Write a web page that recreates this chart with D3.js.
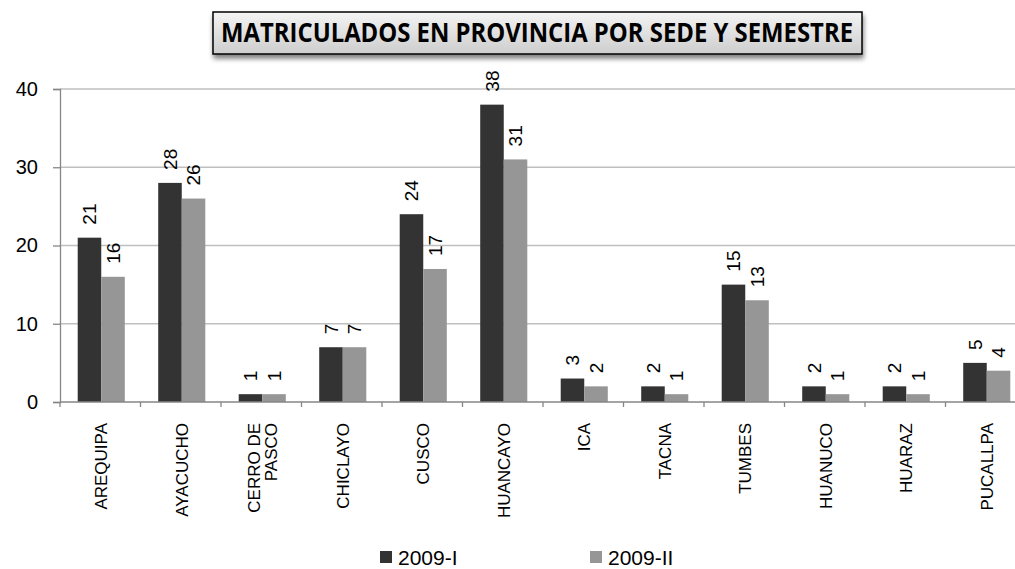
<!DOCTYPE html>
<html>
<head>
<meta charset="utf-8">
<script src="https://cdn.jsdelivr.net/npm/d3@7"></script>
<style>
  html, body { margin: 0; padding: 0; background: #fff; }
  svg { display: block; font-family: Arial, "Liberation Sans", sans-serif; }
</style>
</head>
<body>
<svg id="chart" width="1015" height="569"></svg>
<script>
// Enrolment per campus, two semesters
const sedes = ["AREQUIPA", "AYACUCHO", "CERRO DE PASCO", "CHICLAYO", "CUSCO", "HUANCAYO",
               "ICA", "TACNA", "TUMBES", "HUANUCO", "HUARAZ", "PUCALLPA"];
const sedeLines = [["AREQUIPA"], ["AYACUCHO"], ["CERRO DE", "PASCO"], ["CHICLAYO"], ["CUSCO"], ["HUANCAYO"],
                   ["ICA"], ["TACNA"], ["TUMBES"], ["HUANUCO"], ["HUARAZ"], ["PUCALLPA"]];
const semestres = ["2009-I", "2009-II"];
const valores2009I  = [21, 28, 1, 7, 24, 38, 3, 2, 15, 2, 2, 5];
const valores2009II = [16, 26, 1, 7, 17, 31, 2, 1, 13, 1, 1, 4];
const yTicks = [0, 10, 20, 30, 40];
const titulo = "MATRICULADOS EN PROVINCIA POR SEDE Y SEMESTRE";

const colores = { "2009-I": "#333333", "2009-II": "#969696" };
const series = { "2009-I": valores2009I, "2009-II": valores2009II };

const svg = d3.select("#chart");

// Plot frame
const plotLeft = 60, plotRight = 1026, plotTop = 89, plotBottom = 402;

const x0 = d3.scaleBand().domain(sedes).range([plotLeft, plotRight]).padding(0);
const x1 = d3.scaleBand().domain(semestres).range([0, x0.bandwidth()]).paddingInner(0).paddingOuter(0.71);
const y = d3.scaleLinear().domain([0, 40]).range([plotBottom, plotTop]);

// Gridlines
svg.append("g").selectAll("line").data(yTicks.filter(d => d > 0)).join("line")
  .attr("x1", plotLeft).attr("x2", 1015)
  .attr("y1", d => y(d)).attr("y2", d => y(d))
  .attr("stroke", "#bfbfbf").attr("stroke-width", 1.3);

// Y axis
const yAxis = svg.append("g").attr("transform", `translate(${plotLeft},0)`)
  .call(d3.axisLeft(y).tickValues(yTicks).tickSize(7).tickPadding(15));
yAxis.select(".domain").attr("stroke", "#868686").attr("stroke-width", 1.3);
yAxis.selectAll(".tick line").attr("stroke", "#868686").attr("stroke-width", 1.3);
yAxis.selectAll(".tick text").attr("font-size", 20).attr("fill", "#000")
  .attr("font-family", "Arial, 'Liberation Sans', sans-serif");

// Bars
const groups = svg.append("g").selectAll("g").data(sedes).join("g")
  .attr("transform", d => `translate(${x0(d)},0)`);

groups.selectAll("rect")
  .data((d, i) => semestres.map(s => ({ s, v: series[s][i] })))
  .join("rect")
  .attr("x", d => x1(d.s) + 1)
  .attr("width", x1.bandwidth())
  .attr("y", d => y(d.v))
  .attr("height", d => y(0) - y(d.v))
  .attr("fill", d => colores[d.s]);

// Value labels, rotated
groups.selectAll("text.val")
  .data((d, i) => semestres.map(s => ({ s, v: series[s][i] })))
  .join("text").attr("class", "val")
  .attr("transform", d => `translate(${x1(d.s) + 1 + x1.bandwidth() / 2},${y(d.v) - 13}) rotate(-90)`)
  .attr("dy", "0.36em")
  .attr("text-anchor", "start")
  .attr("font-size", 19)
  .attr("fill", "#000")
  .text(d => d.v);

// X axis
const xAxis = svg.append("g").attr("transform", `translate(0,${plotBottom})`);
xAxis.append("line").attr("x1", plotLeft).attr("x2", 1015).attr("y1", 0).attr("y2", 0)
  .attr("stroke", "#868686").attr("stroke-width", 1.3);
xAxis.selectAll("line.tk").data(sedes).join("line").attr("class", "tk")
  .attr("x1", d => x0(d)).attr("x2", d => x0(d)).attr("y1", 0).attr("y2", 5)
  .attr("stroke", "#868686").attr("stroke-width", 1.3);

// Category labels, rotated
const catLabels = xAxis.selectAll("g.cat").data(sedes).join("g").attr("class", "cat")
  .attr("transform", d => `translate(${x0(d) + x0.bandwidth() / 2 + 1},21) rotate(-90)`);
catLabels.each(function (d, i) {
  const lines = sedeLines[i];
  const n = lines.length;
  const t = d3.select(this).append("text")
    .attr("text-anchor", "end")
    .attr("font-size", 17)
    .attr("fill", "#000");
  lines.forEach((ln, k) => {
    t.append("tspan")
      .attr("x", 0)
      .attr("y", (k - (n - 1) / 2) * 17)
      .attr("dy", "0.36em")
      .text(ln);
  });
});

// Title box
const defs = svg.append("defs");
const grad = defs.append("linearGradient").attr("id", "titleGrad")
  .attr("x1", 0).attr("y1", 0).attr("x2", 0).attr("y2", 1);
grad.append("stop").attr("offset", "0%").attr("stop-color", "#f4f4f4");
grad.append("stop").attr("offset", "100%").attr("stop-color", "#cdcdcd");
const shadow = defs.append("filter").attr("id", "titleShadow")
  .attr("x", "-10%").attr("y", "-30%").attr("width", "120%").attr("height", "180%");
shadow.append("feGaussianBlur").attr("in", "SourceAlpha").attr("stdDeviation", 2.5);
shadow.append("feOffset").attr("dx", 1).attr("dy", 4).attr("result", "off");
shadow.append("feComponentTransfer").append("feFuncA").attr("type", "linear").attr("slope", 0.5);
const merge = shadow.append("feMerge");
merge.append("feMergeNode");
merge.append("feMergeNode").attr("in", "SourceGraphic");

svg.append("rect")
  .attr("x", 213).attr("y", 12).attr("width", 649).attr("height", 42)
  .attr("fill", "url(#titleGrad)")
  .attr("stroke", "#000").attr("stroke-width", 1.5)
  .attr("filter", "url(#titleShadow)");
svg.append("text")
  .attr("x", 221).attr("y", 42)
  .attr("font-family", "'Open Sans', 'Liberation Sans', sans-serif")
  .attr("font-weight", "bold")
  .attr("font-size", 27)
  .attr("textLength", 632)
  .attr("lengthAdjust", "spacingAndGlyphs")
  .attr("fill", "#000")
  .text(titulo);

// Legend
const legendX = { "2009-I": 380, "2009-II": 590 };
const legend = svg.append("g").selectAll("g").data(semestres).join("g")
  .attr("transform", d => `translate(${legendX[d]},551)`);
legend.append("rect").attr("width", 12).attr("height", 12).attr("fill", d => colores[d]);
legend.append("text").attr("x", 18).attr("y", 6).attr("dy", "0.36em")
  .attr("font-size", 21).attr("fill", "#000").text(d => d);
</script>
</body>
</html>
